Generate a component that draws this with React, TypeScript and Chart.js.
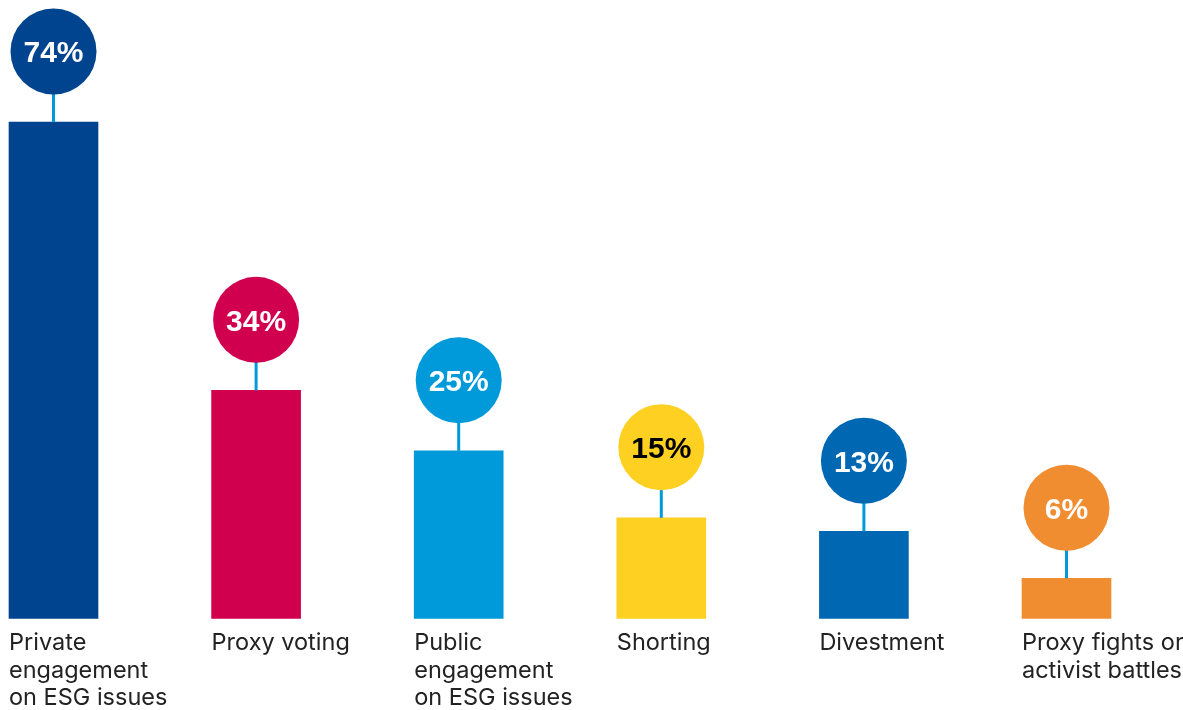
import React, { useEffect, useRef } from "react";
import { Chart, registerables } from "chart.js";

Chart.register(...registerables);

const categories: string[][] = [
  ["Private", "engagement", "on ESG issues"],
  ["Proxy voting"],
  ["Public", "engagement", "on ESG issues"],
  ["Shorting"],
  ["Divestment"],
  ["Proxy fights or", "activist battles"],
];
const values: number[] = [74, 34, 25, 15, 13, 6];
const valueLabels: string[] = ["74%", "34%", "25%", "15%", "13%", "6%"];
const barColors: string[] = ["#00448F", "#D0004E", "#0099D9", "#FDD022", "#0068B3", "#F18D31"];
const valueTextColors: string[] = ["#FFFFFF", "#FFFFFF", "#FFFFFF", "#000000", "#FFFFFF", "#FFFFFF"];
const connectorColor = "#0099D9";
const FONT = '"Liberation Sans", Arial, Helvetica, sans-serif';
const LABEL_FONT = 'Inter, "Liberation Sans", Arial, sans-serif';

const bubblePlugin = {
  id: "bubbles",
  afterDatasetsDraw(chart: any) {
    const ctx = chart.ctx as CanvasRenderingContext2D;
    const meta = chart.getDatasetMeta(0);
    const area = chart.chartArea;
    meta.data.forEach((bar: any, i: number) => {
      const x = bar.x;
      const top = bar.y;
      const r = 43;
      const cy = top - 70.5;
      ctx.save();
      // connector
      ctx.strokeStyle = connectorColor;
      ctx.lineWidth = 3;
      ctx.beginPath();
      ctx.moveTo(x, top);
      ctx.lineTo(x, cy + r - 1);
      ctx.stroke();
      // circle
      ctx.fillStyle = barColors[i];
      ctx.beginPath();
      ctx.arc(x, cy, r, 0, Math.PI * 2);
      ctx.fill();
      // value text
      ctx.fillStyle = valueTextColors[i];
      ctx.font = `bold 30px ${FONT}`;
      ctx.textAlign = "center";
      ctx.textBaseline = "alphabetic";
      ctx.fillText(valueLabels[i], x, cy + 11);
      // category label
      const left = x - 44.5;
      ctx.fillStyle = "#222222";
      ctx.font = `23.5px ${LABEL_FONT}`;
      ctx.textAlign = "left";
      categories[i].forEach((line, j) => {
        ctx.fillText(line, left, area.bottom + 31.5 + j * 27.5);
      });
      ctx.restore();
    });
  },
};

export default function App() {
  const ref = useRef<HTMLCanvasElement | null>(null);
  useEffect(() => {
    if (!ref.current) return;
    const chart = new Chart(ref.current, {
      type: "bar",
      data: {
        labels: categories.map((c) => c.join(" ")),
        datasets: [
          {
            data: values,
            backgroundColor: barColors,
            borderWidth: 0,
            barThickness: 89,
            clip: false as any,
          },
        ],
      },
      options: {
        animation: false,
        responsive: true,
        maintainAspectRatio: false,
        layout: { padding: { left: 53.5, right: 116.5, top: 81.7, bottom: 91.5 } },
        plugins: { legend: { display: false }, tooltip: { enabled: false } },
        scales: {
          x: { display: false, offset: false, grid: { display: false } },
          y: { display: false, min: 0, max: 80, grid: { display: false } },
        },
      },
      plugins: [bubblePlugin],
    });
    return () => chart.destroy();
  }, []);
  return (
    <div style={{ position: "fixed", left: 0, top: 0, width: 1183, height: 710, background: "#fff" }}>
      <canvas ref={ref} />
    </div>
  );
}
